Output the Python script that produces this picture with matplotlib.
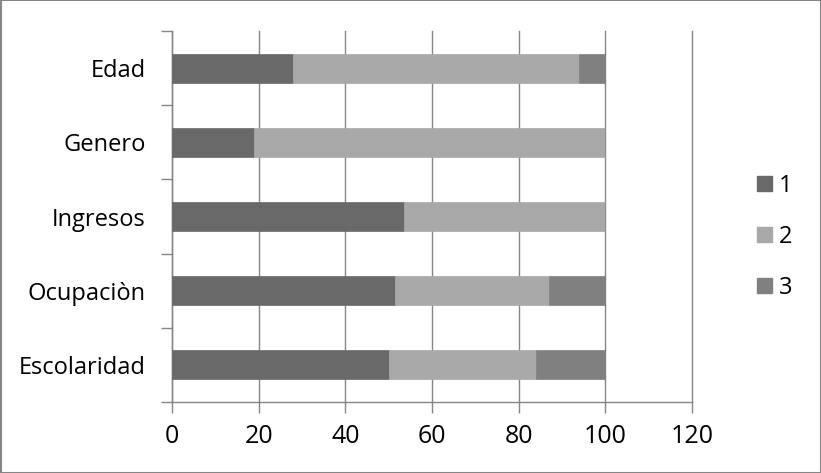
import matplotlib
matplotlib.use("Agg")
import matplotlib.pyplot as plt
from matplotlib.patches import Rectangle
import numpy as np

categories = ["Edad", "Genero", "Ingresos", "Ocupaciòn", "Escolaridad"]
series_names = ["1", "2", "3"]
s1 = [28, 19, 53.5, 51.5, 50]
s2 = [66, 81, 46.5, 35.5, 34]
s3 = [6, 0, 0, 13, 16]
colors = ["#696969", "#a8a8a8", "#808080"]
xticks = [0, 20, 40, 60, 80, 100, 120]

plt.rcParams['font.family'] = ['Open Sans', 'DejaVu Sans']

fig = plt.figure(figsize=(8.21, 4.73), dpi=100)
ax = fig.add_axes([172/821, 71/473, 520/821, 371/473])

y = np.arange(len(categories))
left = np.zeros(len(categories))
for vals, c, name in zip([s1, s2, s3], colors, series_names):
    ax.barh(y, vals, left=left, height=0.39, color=c, label=name, zorder=3,
            edgecolor=c, linewidth=0.5)
    left = left + np.array(vals)

ax.set_xlim(0, 120)
ax.set_ylim(len(categories) - 0.5, -0.5)
ax.set_xticks(xticks)
ax.set_xticklabels([str(v) for v in xticks], fontsize=18)
ax.set_yticks(y)
ax.set_yticklabels(categories, fontsize=17)
ax.tick_params(axis='y', length=0, pad=19)
ax.set_yticks(np.arange(-0.5, len(categories)), minor=True)
ax.tick_params(axis='y', which='minor', length=8, color="#868686", width=1)
ax.tick_params(axis='x', length=8, color="#868686", width=1, pad=8)

ax.grid(axis='x', color="#868686", linewidth=1, zorder=0)
for gl in ax.get_xgridlines():
    gl.set_clip_on(False)
for s in ["top", "right"]:
    ax.spines[s].set_visible(False)
for s in ["left", "bottom"]:
    ax.spines[s].set_color("#868686")
    ax.spines[s].set_linewidth(1)

handles = [Rectangle((0, 0), 1, 1, color=c) for c in colors]
fig.legend(handles, series_names, loc="center left", bbox_to_anchor=(736/821, 236/473),
           frameon=False, fontsize=17, handlelength=0.62, handleheight=0.62,
           labelspacing=1.15, handletextpad=0.3)

fig.add_artist(Rectangle((0.5/821, 0.5/473), 1 - 1/821, 1 - 1/473, transform=fig.transFigure,
                         fill=False, edgecolor="#868686", linewidth=1.5))

fig.savefig("out.png", dpi=100)
